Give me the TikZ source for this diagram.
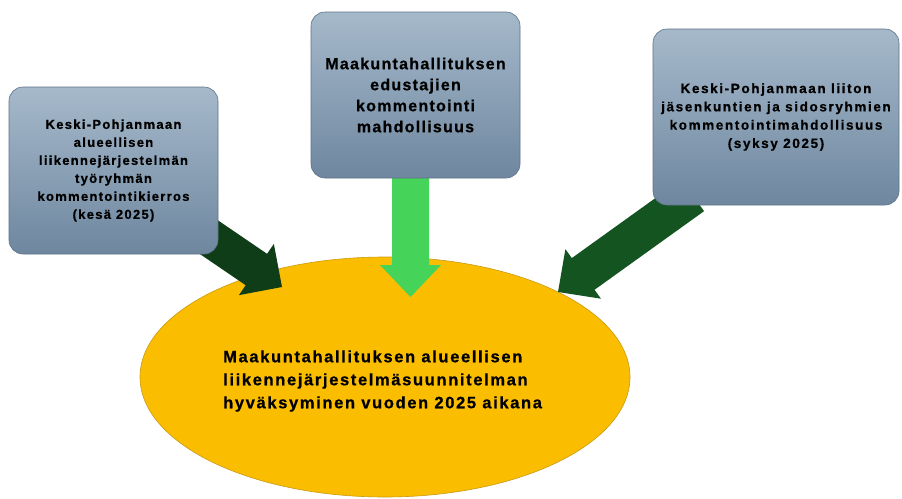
\documentclass[tikz,border=0pt]{standalone}
\usepackage{fontspec}
\setmainfont[BoldFeatures={FakeBold=0.7}]{Liberation Sans}
\usetikzlibrary{calc,shapes.geometric}
\pgfdeclarelayer{back}
\pgfdeclarelayer{mid}
\pgfsetlayers{back,mid,main}
\definecolor{boxtop}{HTML}{A6B9CB}
\definecolor{boxbot}{HTML}{6E879F}
\definecolor{boxline}{HTML}{5E7286}
\definecolor{gold}{HTML}{FBBD00}
\definecolor{goldline}{HTML}{C99A10}
\definecolor{dgreenA}{HTML}{0E3D17}
\definecolor{dgreenB}{HTML}{145420}
\definecolor{lgreen}{HTML}{46D35A}
% color, start, tip, shaft half width, head half width, head length
\newcommand\fatarrow[6]{%
  \coordinate (fab) at ($(#3)!#6!(#2)$);
  \fill[#1] ($(#2)!#4!90:(#3)$) -- ($(fab)!#4!90:(#3)$) -- ($(fab)!#5!90:(#3)$) -- (#3)
    -- ($(fab)!#5!-90:(#3)$) -- ($(fab)!#4!-90:(#3)$) -- ($(#2)!#4!-90:(#3)$) -- cycle;}
\tikzset{
  box/.style={draw=boxline, line width=0.6pt, rounded corners=14pt, top color=boxtop,
    bottom color=boxbot, align=center, inner sep=0pt, text=black},
  goal/.style={ellipse, draw=goldline, line width=0.6pt, fill=gold, inner sep=0pt,
    minimum width=490pt, minimum height=240pt},
  goaltext/.style={align=left, inner sep=0pt, anchor=west,
    font=\bfseries\addfontfeatures{LetterSpace=10}\fontsize{16.5}{23}\selectfont}
}
\begin{document}
\begin{tikzpicture}[x=1pt,y=-1pt]
\useasboundingbox (0,0) rectangle (902,498);
% boxes
\node[box, minimum width=209pt, minimum height=167pt,
  font=\bfseries\addfontfeatures{LetterSpace=10}\fontsize{13}{18}\selectfont] (b1) at (113.5,170.5)
  {Keski-Pohjanmaan\\alueellisen\\liikennejärjestelmän\\työryhmän\\kommentointikierros\\(kesä 2025)};
\node[box, minimum width=209pt, minimum height=166pt,
  font=\bfseries\addfontfeatures{LetterSpace=8}\fontsize{16}{21}\selectfont] (b2) at (415.5,95)
  {Maakuntahallituksen\\edustajien\\kommentointi\\mahdollisuus};
\node[box, minimum width=246pt, minimum height=176pt,
  font=\bfseries\addfontfeatures{LetterSpace=12}\fontsize{13.5}{18.3}\selectfont] (b3) at (776,117)
  {Keski-Pohjanmaan liiton\\jäsenkuntien ja sidosryhmien\\kommentointimahdollisuus\\(syksy 2025)};
% goal ellipse
\begin{pgfonlayer}{back}
\node[goal] (g) at (385,377) {};
\node[goaltext] (gt) at (223,381)
  {Maakuntahallituksen alueellisen\\liikennejärjestelmäsuunnitelman\\hyväksyminen vuoden 2025 aikana};
\end{pgfonlayer}
% arrows
\begin{pgfonlayer}{mid}
\coordinate (s1) at ($(b1.south east)+(-18,-23)$);
\coordinate (t1) at (282,287);
\coordinate (s2) at ($(b2.south)+(-5,-8)$);
\coordinate (t2) at (410.5,297);
\coordinate (s3) at ($(b3.south west)+(40,-10)$);
\coordinate (t3) at (558,292);
\fatarrow{dgreenA}{s1}{t1}{19pt}{31pt}{31pt}
\fatarrow{lgreen}{s2}{t2}{18.5pt}{30.5pt}{32pt}
\fatarrow{dgreenB}{s3}{t3}{19.5pt}{30.5pt}{31pt}
\end{pgfonlayer}
\end{tikzpicture}
\end{document}
